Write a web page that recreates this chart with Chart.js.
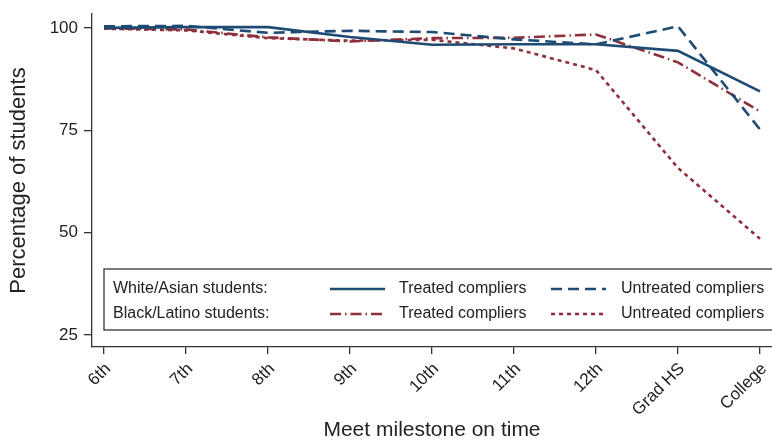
<!DOCTYPE html>
<html lang="en">
<head>
    <meta charset="UTF-8">
    <title>Meet milestone on time</title>
    <style>
        html, body { margin: 0; padding: 0; background: #fff; }
        #wrap { width: 772px; height: 443px; }
    </style>
    <script src="https://cdn.jsdelivr.net/npm/chart.js@4.4.1/dist/chart.umd.min.js"></script>
</head>
<body>
    <div id="wrap"><canvas id="chart" width="772" height="443"></canvas></div>

    <script>
        // Milestones (x axis)
        const milestones = ['6th', '7th', '8th', '9th', '10th', '11th', '12th', 'Grad HS', 'College'];
        const yTicks = [25, 50, 75, 100];

        // Percentage of students
        const whiteAsianTreated   = [100.0, 100.2, 100.2, 97.8, 95.9, 96.0, 96.0, 94.4, 84.5];
        const whiteAsianUntreated = [100.4, 100.5, 98.8, 99.3, 99.0, 97.2, 96.0, 100.4, 75.2];
        const blackLatinoTreated   = [99.9, 99.6, 97.7, 96.7, 97.5, 97.6, 98.4, 91.6, 79.6];
        const blackLatinoUntreated = [99.8, 99.4, 97.5, 96.9, 97.1, 95.0, 89.7, 65.8, 48.5];

        const navy = '#1e4b74';
        const red = '#8e2f3b';
        const FONT = '"Liberation Sans", Arial, sans-serif';

        function points(arr) {
            return arr.map((v, i) => ({ x: i, y: v }));
        }

        const datasets = [
            { label: 'WA treated', data: points(whiteAsianTreated), borderColor: navy, borderDash: [] },
            { label: 'WA untreated', data: points(whiteAsianUntreated), borderColor: navy, borderDash: [11, 6] },
            { label: 'BL treated', data: points(blackLatinoTreated), borderColor: red, borderDash: [11, 4, 1.5, 4] },
            { label: 'BL untreated', data: points(blackLatinoUntreated), borderColor: red, borderDash: [4, 4] }
        ].map(d => Object.assign(d, { borderWidth: 2.6, pointRadius: 0, tension: 0, fill: false }));

        // Legend box drawn inside the plot, like the original figure
        const boxLegend = {
            id: 'boxLegend',
            afterDatasetsDraw(chart) {
                const ctx = chart.ctx;
                const left = 104, top = 269, right = 776, bottom = 330;
                ctx.save();
                ctx.fillStyle = '#fff';
                ctx.fillRect(left, top, right - left, bottom - top);
                ctx.strokeStyle = '#333';
                ctx.lineWidth = 1.3;
                ctx.strokeRect(left, top, right - left, bottom - top);

                ctx.font = '16px ' + FONT;
                ctx.fillStyle = '#222';
                ctx.textBaseline = 'middle';
                const rows = [289, 314];
                ctx.fillText('White/Asian students:', 113, rows[0]);
                ctx.fillText('Black/Latino students:', 113, rows[1]);

                const items = [
                    { ds: chart.data.datasets[0], x: 330, y: rows[0], text: 'Treated compliers', tx: 399 },
                    { ds: chart.data.datasets[1], x: 551, y: rows[0], text: 'Untreated compliers', tx: 621 },
                    { ds: chart.data.datasets[2], x: 330, y: rows[1], text: 'Treated compliers', tx: 399 },
                    { ds: chart.data.datasets[3], x: 551, y: rows[1], text: 'Untreated compliers', tx: 621 }
                ];
                items.forEach(it => {
                    ctx.save();
                    ctx.strokeStyle = it.ds.borderColor;
                    ctx.lineWidth = it.ds.borderWidth;
                    ctx.setLineDash(it.ds.borderDash);
                    ctx.beginPath();
                    ctx.moveTo(it.x, it.y);
                    ctx.lineTo(it.x + 55, it.y);
                    ctx.stroke();
                    ctx.restore();
                    ctx.fillText(it.text, it.tx, it.y);
                });
                ctx.restore();
            }
        };

        new Chart(document.getElementById('chart'), {
            type: 'line',
            data: { datasets: datasets },
            options: {
                responsive: false,
                animation: false,
                layout: { padding: { top: 14, right: 0, left: 0, bottom: 0 } },
                plugins: { legend: { display: false }, tooltip: { enabled: false } },
                scales: {
                    x: {
                        type: 'linear',
                        min: -0.1463,
                        max: 8.1463,
                        afterBuildTicks(scale) {
                            scale.ticks = milestones.map((m, i) => ({ value: i }));
                        },
                        afterFit(scale) {
                            scale.height = 96;
                            scale.paddingLeft = 0;
                            scale.paddingRight = 0;
                        },
                        grid: { drawOnChartArea: false, drawTicks: true, tickLength: 7, color: '#333', lineWidth: 1.3 },
                        border: { display: true, color: '#333', width: 1.3 },
                        ticks: {
                            autoSkip: false,
                            minRotation: 45,
                            maxRotation: 45,
                            padding: 5,
                            labelOffset: 4,
                            color: '#222',
                            font: { family: FONT, size: 17 },
                            callback: v => milestones[v]
                        },
                        title: {
                            display: true,
                            text: 'Meet milestone on time',
                            color: '#222',
                            font: { family: FONT, size: 21 },
                            padding: { top: 0, bottom: 0 }
                        }
                    },
                    y: {
                        min: 22.09,
                        max: 103.4,
                        afterBuildTicks(scale) {
                            scale.ticks = yTicks.map(v => ({ value: v }));
                        },
                        afterFit(scale) {
                            scale.width = 92;
                            scale.paddingTop = 0;
                            scale.paddingBottom = 0;
                        },
                        grid: { drawOnChartArea: false, drawTicks: true, tickLength: 8, color: '#333', lineWidth: 1.3 },
                        border: { display: true, color: '#333', width: 1.3 },
                        ticks: {
                            padding: 6,
                            color: '#222',
                            font: { family: FONT, size: 17 }
                        },
                        title: {
                            display: true,
                            text: 'Percentage of students',
                            color: '#222',
                            font: { family: FONT, size: 22 },
                            padding: { top: 6, bottom: 0 }
                        }
                    }
                }
            },
            plugins: [boxLegend]
        });
    </script>
</body>
</html>
